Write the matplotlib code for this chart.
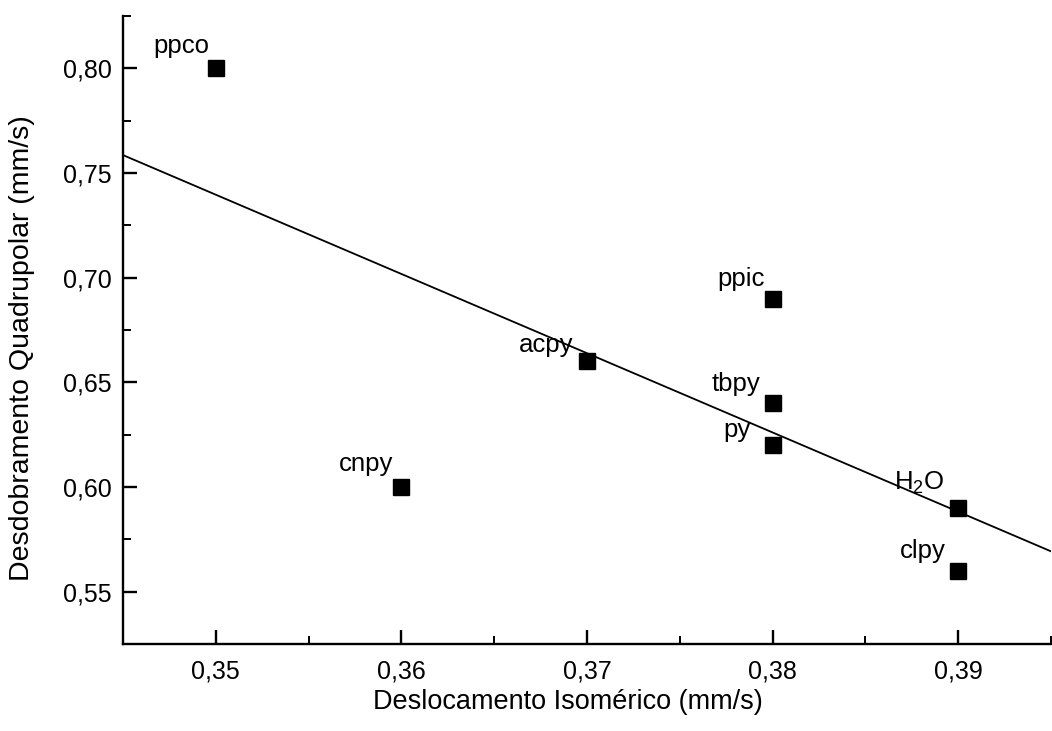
import numpy as np
import matplotlib
matplotlib.use("Agg")
import matplotlib.pyplot as plt
from matplotlib.ticker import MultipleLocator, FuncFormatter

# Data
labels = ["ppco", "cnpy", "acpy", "ppic", "tbpy", "py", r"H$_2$O", "clpy"]
iso_shift = [0.35, 0.36, 0.37, 0.38, 0.38, 0.38, 0.39, 0.39]
quad_split = [0.80, 0.60, 0.66, 0.69, 0.64, 0.62, 0.59, 0.56]

# label offsets (pixels, right edge / baseline relative to marker centre)
label_offsets = [(-7, 15), (-8, 16), (-14, 9), (-8, 13), (-12, 12), (-22, 8), (-14, 18), (-12, 13)]

plt.rcParams['font.family'] = ['Liberation Sans', 'DejaVu Sans']
plt.rcParams['mathtext.fontset'] = 'custom'
plt.rcParams['mathtext.rm'] = 'Liberation Sans'

fig = plt.figure(figsize=(10.52, 7.31), dpi=100)
ax = fig.add_axes([0.117, 0.119, 0.882, 0.859])

xlim = (0.345, 0.395)
ylim = (0.525, 0.825)

# linear fit
slope, intercept = np.polyfit(iso_shift, quad_split, 1)
xf = np.array(xlim)
ax.plot(xf, slope * xf + intercept, color='black', lw=1.3, zorder=2)

ax.plot(iso_shift, quad_split, linestyle='none', marker='s', markersize=11.5,
        color='black', zorder=3)

for lab, x, y, (dx, dy) in zip(labels, iso_shift, quad_split, label_offsets):
    ax.annotate(lab, (x, y), xytext=(dx * 0.72, dy * 0.72), textcoords='offset points',
                ha='right', va='baseline', fontsize=18.5)

ax.set_xlim(*xlim)
ax.set_ylim(*ylim)

ax.spines['top'].set_visible(False)
ax.spines['right'].set_visible(False)
for s in ('left', 'bottom'):
    ax.spines[s].set_linewidth(1.7)

ax.xaxis.set_major_locator(MultipleLocator(0.01))
ax.xaxis.set_minor_locator(MultipleLocator(0.005))
ax.yaxis.set_major_locator(MultipleLocator(0.05))
ax.yaxis.set_minor_locator(MultipleLocator(0.025))

fmt = FuncFormatter(lambda v, p: f"{v:.2f}".replace('.', ','))
ax.xaxis.set_major_formatter(fmt)
ax.yaxis.set_major_formatter(fmt)

ax.tick_params(which='major', direction='in', length=10, width=1.7, labelsize=18, pad=11)
ax.tick_params(which='minor', direction='in', length=6, width=1.4)
ax.tick_params(axis='y', pad=8)

ax.set_xlabel("Deslocamento Isomérico (mm/s)", fontsize=19.5)
ax.set_ylabel("Desdobramento Quadrupolar (mm/s)", fontsize=20.5)
ax.xaxis.set_label_coords(0.479, -0.0717)
ax.yaxis.set_label_coords(-0.0948, 0.471)

fig.savefig("out.png", dpi=100)
